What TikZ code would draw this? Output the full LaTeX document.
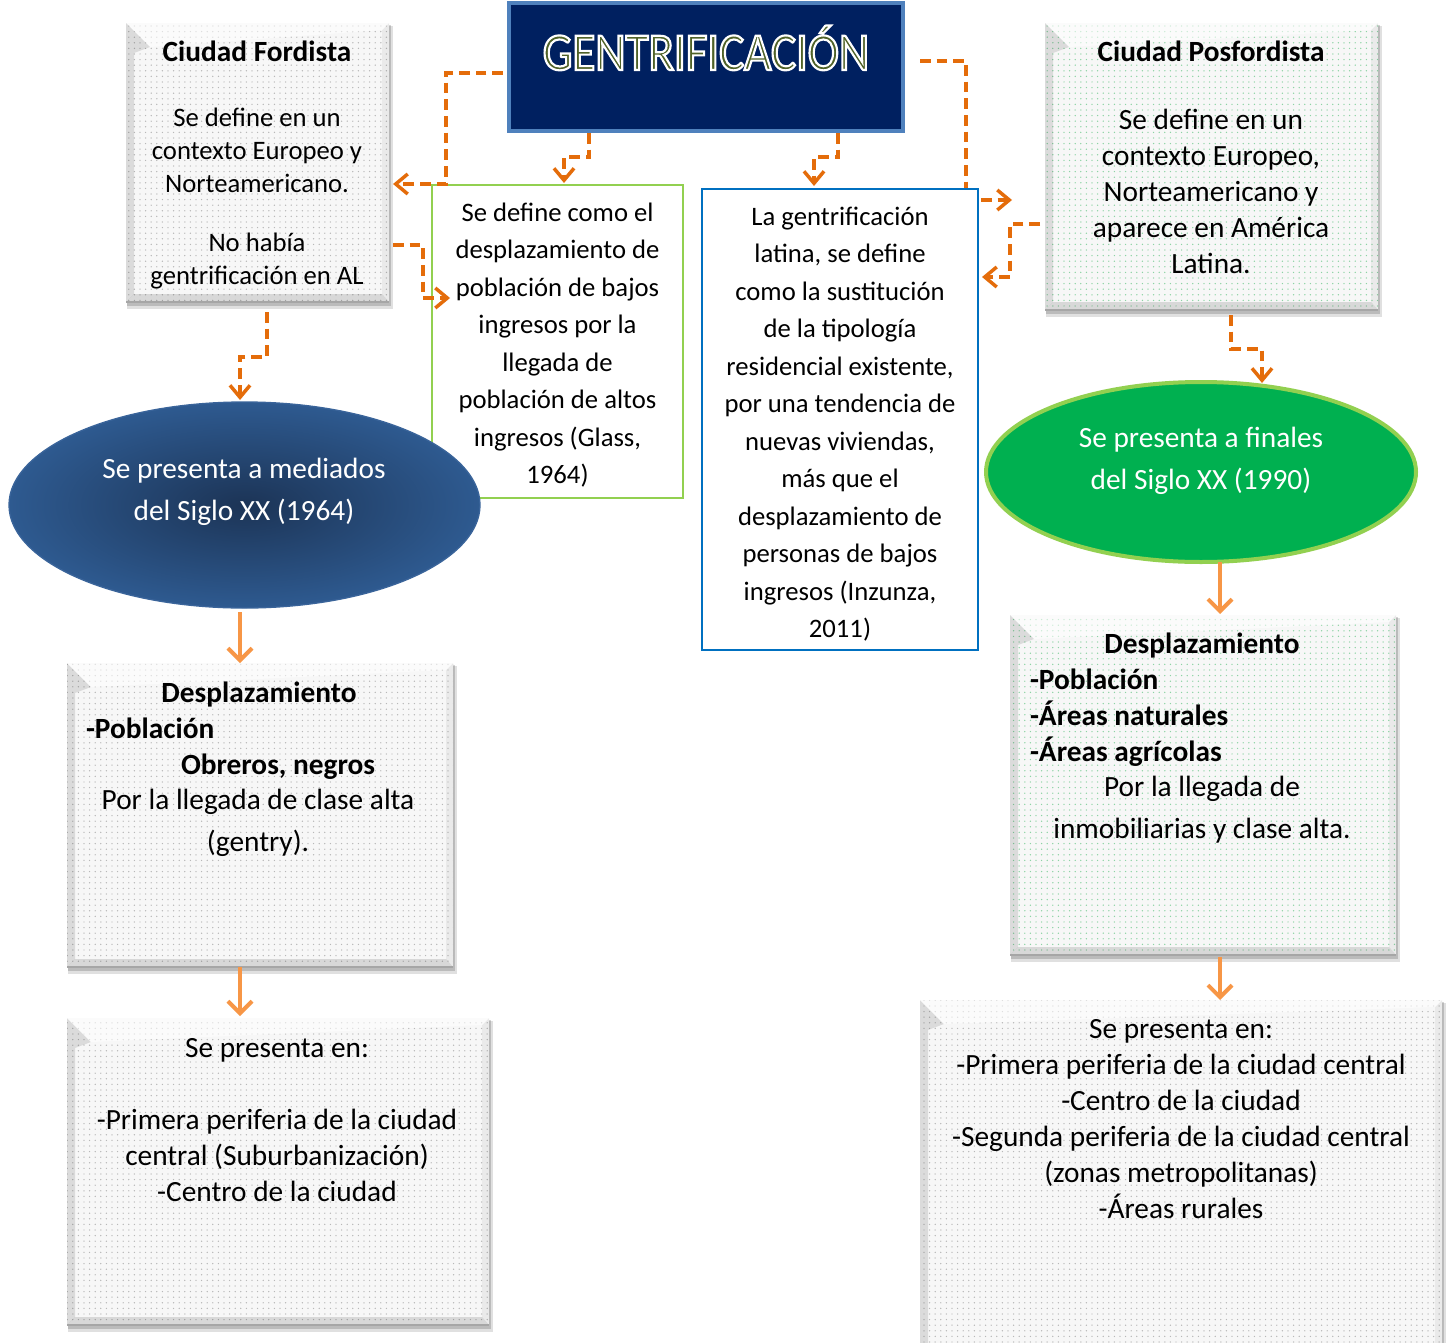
\documentclass[tikz,border=0pt]{standalone}
\usepackage{fontspec}
\setmainfont{Carlito}
\newfontfamily\titlefont[FakeStretch=0.88]{Carlito}
\usetikzlibrary{arrows.meta,calc,fit,patterns.meta,shapes.geometric}
\definecolor{cNavy}{HTML}{002060}
\definecolor{cTitleBorder}{HTML}{4F81BD}
\definecolor{cTitleFill}{HTML}{4F6228}
\definecolor{cDash}{HTML}{E46C0A}
\definecolor{cSol}{HTML}{F79646}
\definecolor{cLGreen}{HTML}{92D050}
\definecolor{cDGreen}{HTML}{00B050}
\definecolor{cMBlue}{HTML}{0070C0}
\definecolor{cEllIn}{HTML}{1C3456}
\definecolor{cEllOut}{HTML}{2E5A90}
\definecolor{cEllBorder}{HTML}{3A649A}
\definecolor{cDotGray}{HTML}{B8B8B8}
\definecolor{cDotGreen}{HTML}{8CD3A4}
\definecolor{cBoxFill}{HTML}{F7F7F7}
\newcommand\fsA{\fontsize{20}{24.75}\selectfont}
\newcommand\fsB{\fontsize{20}{28.1}\selectfont}
\newcommand\fsC{\fontsize{22}{27}\selectfont}
\newcommand\fsD{\fontsize{22}{31.5}\selectfont}
\tikzset{
  dsh/.style={draw=cDash, line width=2.6pt, dash pattern=on 8pt off 4.5pt,
    -{Straight Barb[length=9pt,width=15pt]}},
  sol/.style={draw=cSol, line width=3pt, -{Straight Barb[length=9pt,width=18pt]}},
  txt/.style={inner sep=0pt, outer sep=0pt, align=center},
  plainbox/.style={inner sep=0pt, outer sep=0pt, fill=white, line width=1.5pt},
}
% name, x1, y1, x2, y2, dot colour
\newcommand\bevbox[6]{%
  \fill[black, opacity=.12] (#2+1,#3+3) rectangle (#4+4,#5+7);
  \fill[black, opacity=.16] (#2+1,#3+2) rectangle (#4+2,#5+4);
  \node[fit={(#2,#3) (#4,#5)}, inner sep=0pt, outer sep=0pt, fill=cBoxFill,
        postaction={pattern={Dots[distance=4.2pt,radius=.55pt]},pattern color=#6}] (#1) {};
  \fill[black, opacity=.11] (#2,#3) -- (#2+24,#3+24) -- (#2+8,#3+30) -- (#2+8,#5-8) -- (#2,#5) -- cycle;
  \fill[black, opacity=.12] (#2,#5) -- (#2+8,#5-8) -- (#4-7,#5-8) -- (#4,#5) -- cycle;
  \fill[black, opacity=.05] (#4,#3) -- (#4-7,#3+7) -- (#4-7,#5-8) -- (#4,#5) -- cycle;
  \fill[white, opacity=.55] (#2,#3) -- (#4,#3) -- (#4-7,#3+7) -- (#2+24,#3+24) -- cycle;
  \draw[black!35, line width=.8pt] (#2,#5) -- (#4,#5);
}
\begin{document}
\begin{tikzpicture}[x=0.75pt,y=-0.75pt]
\useasboundingbox (0,0) rectangle (1449,1342);
\fill[white] (0,0) rectangle (1449,1342);

% title
\node[fit={(509,3) (903,131)}, inner sep=0pt, outer sep=0pt, fill=cNavy,
      draw=cTitleBorder, line width=3pt] (title) {};
\node[txt, anchor=base, font=\titlefont\fontsize{40}{48}\selectfont] (titleT) at (706,70)
  {\color{cTitleFill}\special{pdf:literal direct 2 Tr 1 1 1 RG 1.6 w}GENTRIFICACIÓN\special{pdf:literal direct 0 Tr}};

% bevelled boxes
\bevbox{ford}{126}{23}{389}{302}{cDotGray}
\bevbox{pos}{1045}{23}{1378}{310}{cDotGreen}
\bevbox{ldesp}{67}{663}{453}{967}{cDotGray}
\bevbox{lbot}{67}{1018}{489}{1325}{cDotGray}
\bevbox{rdesp}{1010}{615}{1396}{955}{cDotGreen}
\bevbox{rbot}{920}{1000}{1442}{1370}{cDotGray}

% green box and ellipses
\node[plainbox, draw=cLGreen, fit={(432,185) (683,498)}] (green) {};
\node[ellipse, minimum width=353.25pt, minimum height=154.5pt, inner sep=0pt, outer sep=0pt,
      draw=cEllBorder, line width=1pt, inner color=cEllIn, outer color=cEllOut] (lell) at (244.5,505) {};
\node[ellipse, minimum width=322.5pt, minimum height=135pt, inner sep=0pt, outer sep=0pt,
      fill=cDGreen, draw=cLGreen, line width=3pt] (rell) at (1201,472) {};

% connector hidden partly behind the blue box
\draw[dsh] ($(title.east)+(17,-6)$) -- ++(46,0) |- ($(pos.west)+(-33,33.5)$);
\node[plainbox, draw=cMBlue, fit={(702,189) (978,650)}] (blue) {};

% dashed connectors
\draw[dsh] ($(title.west)+(-6,6)$) -- ++(-57,0) |- ($(ford.east)+(4,21.5)$);
\draw[dsh] ($(title.south)+(-117,2)$) -- ++(0,24) -| ($(green.north)+(6.5,-2)$);
\draw[dsh] ($(title.south)+(132,2)$) -- ++(0,24) -| ($(blue.north)+(-26,-3)$);
\draw[dsh] ($(ford.east)+(4,82.5)$) -- ++(30,0) |- ($(green.west)+(18,-43.5)$);
\draw[dsh] ($(pos.west)+(-5,57.5)$) -- ++(-30,0) |- ($(blue.east)+(4,-142.5)$);
\draw[dsh] ($(ford.south)+(9.5,10)$) -- ++(0,45) -| ($(lell.north)+(-4.5,-2)$);
\draw[dsh] ($(pos.south)+(19.5,5)$) -- ++(0,34) -| ($(rell.north)+(61,1)$);

% solid connectors
\draw[sol] ($(lell.south)+(-4.5,4)$) -- ($(ldesp.north)+(-20,0)$);
\draw[sol] ($(ldesp.south)+(-20,0)$) -- ($(lbot.north)+(-38,-2)$);
\draw[sol] ($(rell.south)+(19,0)$) -- ($(rdesp.north)+(17,-1)$);
\draw[sol] ($(rdesp.south)+(17,2)$) -- ($(rbot.north)+(39,0)$);

% texts
\node[txt, anchor=base, font=\bfseries\fsC] (fordH) at (257,61) {Ciudad Fordista};
\node[txt, anchor=north, font=\fsA] (fordT1) at (257,108) {Se define en un\\contexto Europeo y\\Norteamericano.};
\node[txt, anchor=north, font=\fsA] (fordT2) at (257,233) {No había\\gentrificación en AL};

\node[txt, anchor=base, font=\bfseries\fsC] (posH) at (1211,61) {Ciudad Posfordista};
\node[txt, anchor=north, font=\fsC] (posT) at (1211,109) {Se define en un\\contexto Europeo,\\Norteamericano y\\aparece en América\\Latina.};

\node[txt, anchor=north, font=\fsB] (greenT) at (557.5,203) {Se define como el\\desplazamiento de\\población de bajos\\ingresos por la\\llegada de\\población de altos\\ingresos (Glass,\\1964)};

\node[txt, anchor=north, font=\fsB] (blueT) at (840,207) {La gentrificación\\latina, se define\\como la sustitución\\de la tipología\\residencial existente,\\por una tendencia de\\nuevas viviendas,\\más que el\\desplazamiento de\\personas de bajos\\ingresos (Inzunza,\\2011)};

\node[txt, anchor=north, font=\fsD, text=white] (lellT) at (244,458) {Se presenta a mediados\\del Siglo XX (1964)};
\node[txt, anchor=north, font=\fsD, text=white] (rellT) at (1201,427) {Se presenta a finales\\del Siglo XX (1990)};

\node[txt, anchor=base, font=\bfseries\fsC] (ldH) at (259,702) {Desplazamiento};
\node[txt, anchor=base west, font=\bfseries\fsC] (ldP) at (86,738) {-Población};
\node[txt, anchor=base west, font=\bfseries\fsC] (ldO) at (181,774) {Obreros, negros};
\node[txt, anchor=north, font=\fsD] (ldT) at (258,789) {Por la llegada de clase alta\\(gentry).};

\node[txt, anchor=base, font=\bfseries\fsC] (rdH) at (1202,653) {Desplazamiento};
\node[txt, anchor=north west, align=left, font=\bfseries\fsC] (rdL) at (1030,669) {-Población\\-Áreas naturales\\-Áreas agrícolas};
\node[txt, anchor=north, font=\fsD] (rdT) at (1202,776) {Por la llegada de\\inmobiliarias y clase alta.};

\node[txt, anchor=base, font=\fsC] (lbH) at (277,1057) {Se presenta en:};
\node[txt, anchor=north, font=\fsC] (lbT) at (277,1109) {-Primera periferia de la ciudad\\central (Suburbanización)\\-Centro de la ciudad};

\node[txt, anchor=north, font=\fsC] (rbT) at (1181,1019) {Se presenta en:\\-Primera periferia de la ciudad central\\-Centro de la ciudad\\-Segunda periferia de la ciudad central\\(zonas metropolitanas)\\-Áreas rurales};
\end{tikzpicture}
\end{document}
